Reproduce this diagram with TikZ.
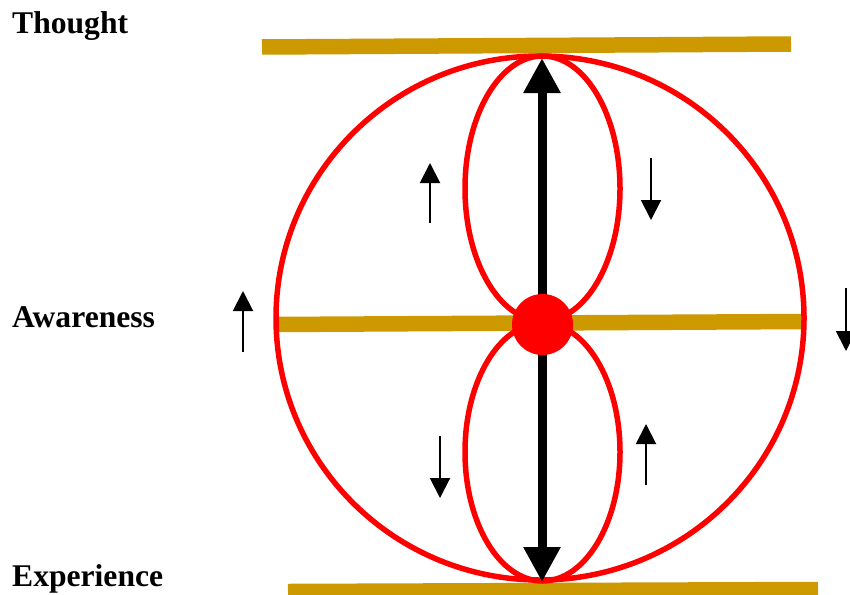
\documentclass[tikz,border=0pt]{standalone}
\usepackage{fontspec}
\setmainfont{Liberation Serif}
\usetikzlibrary{arrows.meta}
\definecolor{gold}{RGB}{204,153,0}
\tikzset{
  label/.style={anchor=base west, inner sep=0pt, font=\fontsize{31.6}{36}\selectfont\bfseries},
  bar/.style={gold, line width=15.5pt},
  loop/.style={red, line width=5.5pt},
  axis/.style={line width=9pt, {Triangle[width=35pt,length=35pt]}-{Triangle[width=35pt,length=35pt]}},
  flow/.style={line width=2pt, -{Triangle[width=20pt,length=20pt]}},
}
\begin{document}
\begin{tikzpicture}[x=1pt,y=-1pt]
\useasboundingbox (0,0) rectangle (850,594);
\clip (0,0) rectangle (850,594);
% labels
\node[label] (thought) at (12,34) {Thought};
\node[label] (awareness) at (12,327) {Awareness};
\node[label] (experience) at (12,586) {Experience};
% bars
\coordinate (t1) at (262,47); \coordinate (t2) at (791,44);
\coordinate (m1) at (275,324.5); \coordinate (m2) at (804,321.5);
\coordinate (b1) at (288,591.5); \coordinate (b2) at (818,589.5);
\draw[bar] (t1) -- (t2);
\draw[bar] (m1) -- (m2);
\draw[bar] (b1) -- (b2);
% circle and loops
\coordinate (c) at (540,318);
\draw[loop] (c) ellipse [x radius=264, y radius=262];
\coordinate (ut) at (542.5,188.5);
\coordinate (lt) at (542.5,452);
\draw[loop] (ut) ellipse [x radius=77.5, y radius=132.5];
\draw[loop] (lt) ellipse [x radius=77.5, y radius=129];
% main axis
\coordinate (top) at (542,58);
\coordinate (bot) at (542,582);
\draw[axis] (bot) -- (top);
% centre dot
\node[circle, fill=red, minimum size=61pt, inner sep=0pt] (dot) at (542.5,324.5) {};
% flow arrows
\coordinate (a1s) at (430,223); \coordinate (a1e) at (430,163);
\coordinate (a2s) at (651,158); \coordinate (a2e) at (651,220);
\coordinate (a3s) at (243,352); \coordinate (a3e) at (243,291);
\coordinate (a4s) at (846,288); \coordinate (a4e) at (846,351);
\coordinate (a5s) at (440,436); \coordinate (a5e) at (440,498);
\coordinate (a6s) at (646,485); \coordinate (a6e) at (646,424);
\draw[flow] (a1s) -- (a1e);
\draw[flow] (a2s) -- (a2e);
\draw[flow] (a3s) -- (a3e);
\draw[flow] (a4s) -- (a4e);
\draw[flow] (a5s) -- (a5e);
\draw[flow] (a6s) -- (a6e);
\end{tikzpicture}
\end{document}
